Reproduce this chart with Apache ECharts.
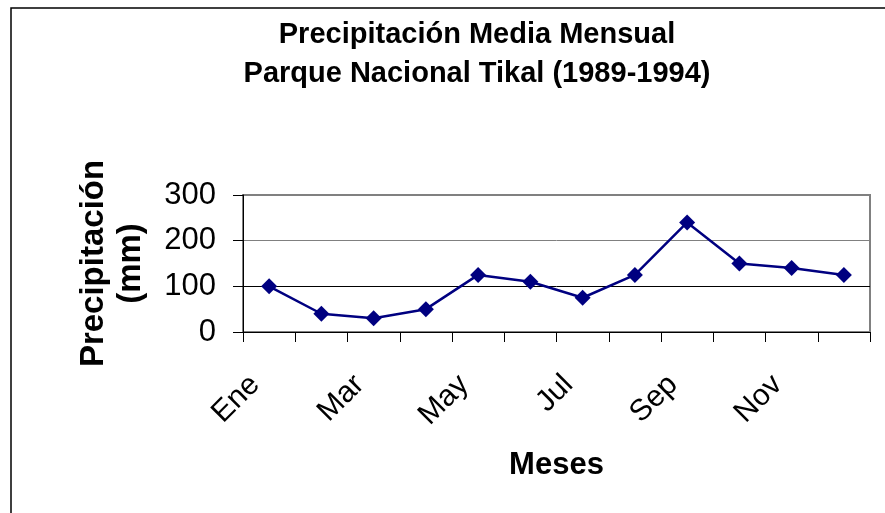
<!DOCTYPE html>
<html>
<head>
<meta charset="utf-8">
<script src="https://cdn.jsdelivr.net/npm/echarts@6/dist/echarts.min.js"></script>
<style>
  html, body { margin: 0; padding: 0; background: #fff; }
  #chart { width: 885px; height: 513px; }
</style>
</head>
<body>
<div id="chart"></div>
<script>
  var months = ['Ene', 'Feb', 'Mar', 'Abr', 'May', 'Jun', 'Jul', 'Ago', 'Sep', 'Oct', 'Nov', 'Dic'];
  var rain = [100, 40, 30, 50, 125, 110, 75, 125, 240, 150, 140, 125];
  var yTicks = [0, 100, 200, 300];

  var font = "'Liberation Sans', Arial, sans-serif";
  var chart = echarts.init(document.getElementById('chart'));

  chart.setOption({
    animation: false,
    title: {
      text: 'Precipitación Media Mensual\nParque Nacional Tikal (1989-1994)',
      left: 477,
      top: 15,
      padding: 0,
      textAlign: 'center',
      textStyle: {
        fontFamily: font,
        fontSize: 29,
        fontWeight: 'bold',
        color: '#000',
        lineHeight: 39
      }
    },
    // outer frame of the chart, cut off at right and bottom
    graphic: [{
      type: 'rect',
      shape: { x: 11, y: 8, width: 1000, height: 700 },
      style: { fill: 'none', stroke: '#000', lineWidth: 1.5 },
      silent: true
    }],
    grid: {
      left: 243,
      right: 15,
      top: 195,
      bottom: 181,
      show: true,
      borderColor: '#808080',
      borderWidth: 2
    },
    xAxis: {
      type: 'category',
      data: months,
      boundaryGap: true,
      name: 'Meses',
      nameLocation: 'middle',
      nameGap: 118,
      nameTextStyle: { fontFamily: font, fontSize: 31, fontWeight: 'bold', color: '#000' },
      axisLine: { show: true, lineStyle: { color: '#000', width: 1 } },
      axisTick: { show: true, interval: 0, length: 10, lineStyle: { color: '#000', width: 1 } },
      axisLabel: {
        interval: 1,
        rotate: 45,
        margin: 34,
        padding: [0, 20, 0, 0],
        fontFamily: font,
        fontSize: 30,
        color: '#000'
      },
      splitLine: { show: false }
    },
    yAxis: {
      type: 'value',
      min: yTicks[0],
      max: yTicks[yTicks.length - 1],
      interval: 100,
      name: 'Precipitación\n(mm)',
      nameLocation: 'middle',
      nameRotate: 90,
      nameGap: 94,
      nameTextStyle: { fontFamily: font, fontSize: 33, fontWeight: 'bold', color: '#000', lineHeight: 37 },
      axisLine: { show: true, lineStyle: { color: '#000', width: 1 } },
      axisTick: { show: true, length: 10, lineStyle: { color: '#000', width: 1 } },
      axisLabel: { margin: 27, fontFamily: font, fontSize: 31, color: '#000' },
      splitLine: { show: true, lineStyle: { color: ['#808080', '#000', '#808080', '#808080'], width: 1 } }
    },
    series: [{
      type: 'line',
      data: rain,
      symbol: 'diamond',
      symbolSize: 16,
      lineStyle: { color: '#000080', width: 2.5 },
      itemStyle: { color: '#000080' }
    }]
  });
</script>
</body>
</html>
